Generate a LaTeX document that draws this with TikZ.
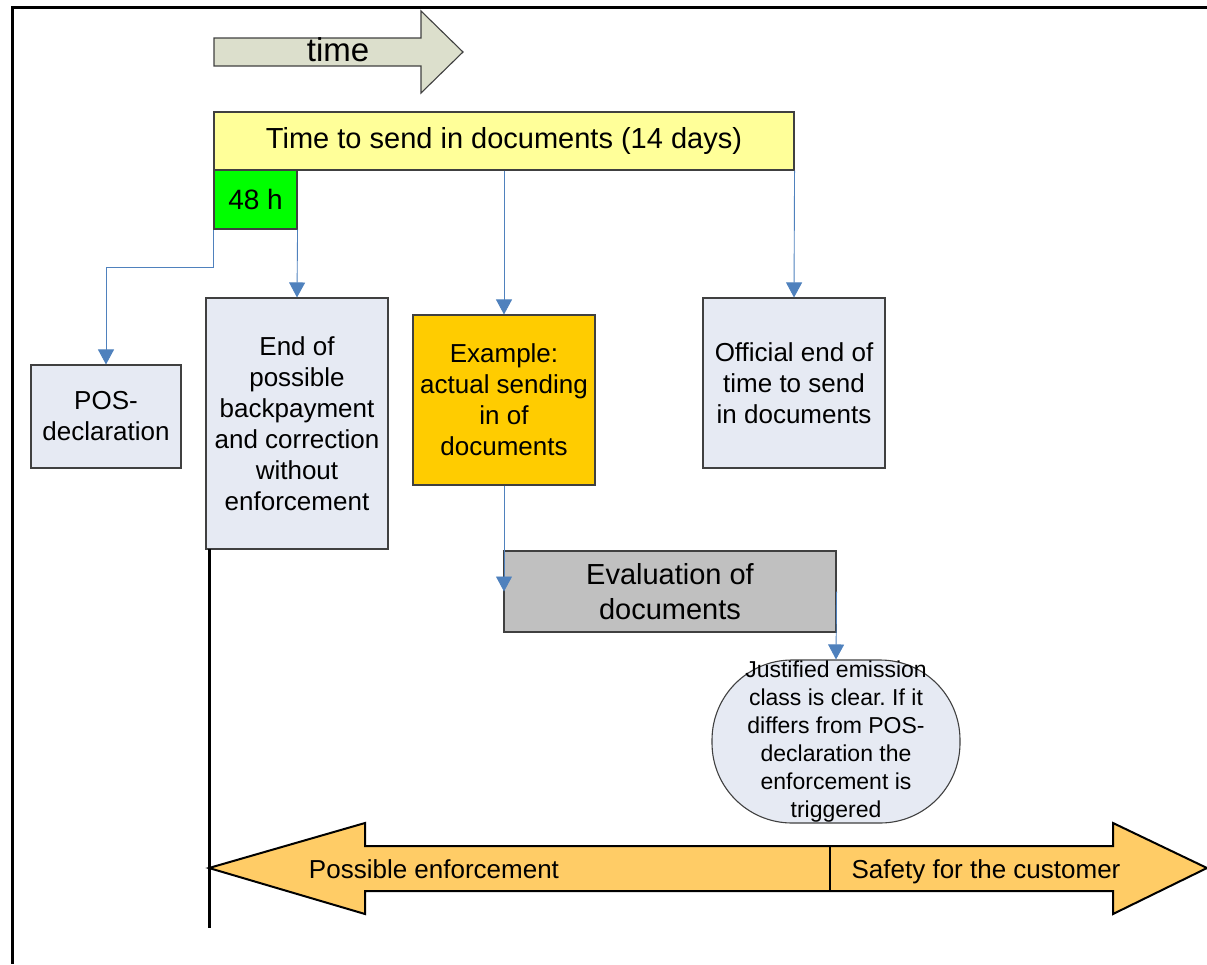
\documentclass[tikz,border=0pt]{standalone}
\usepackage{fontspec}
\setmainfont{Liberation Sans}
\frenchspacing
\usetikzlibrary{arrows.meta}
\definecolor{boxblue}{RGB}{230,234,243}
\definecolor{boxedge}{RGB}{64,64,64}
\definecolor{barYellow}{RGB}{255,255,153}
\definecolor{barGreen}{RGB}{0,255,0}
\definecolor{exOrange}{RGB}{255,204,0}
\definecolor{evGray}{RGB}{192,192,192}
\definecolor{timeFill}{RGB}{220,223,204}
\definecolor{bigArrow}{RGB}{255,204,102}
\definecolor{connBlue}{RGB}{79,129,189}
\tikzset{
  box/.style={draw=boxedge, line width=1.1pt, inner sep=0pt, align=center, anchor=center},
  txt/.style={font=\fontsize{26}{31}\selectfont},
  conn/.style={draw=connBlue, line width=0.9pt, -{Triangle[width=16pt,length=15pt]}},
}
\begin{document}
\begin{tikzpicture}[x=1pt,y=-1pt]
\useasboundingbox (0,0) rectangle (1207,964);
% frame
\coordinate (f1) at (1207,7);
\coordinate (f2) at (12,7);
\coordinate (f3) at (12,964);
\draw[line width=3pt] (f1) -- (f2) -- (f3);

% time arrow
\draw[fill=timeFill, draw=boxedge, line width=1.1pt]
  (214,38) -- (421,38) -- (421,11) -- (463,52) -- (421,93) -- (421,66) -- (214,66) -- cycle;
\node[font=\fontsize{33}{36}\selectfont] (time) at (338,50) {time};

% top bars
\node[box, fill=barYellow, minimum width=580pt, minimum height=58pt, font=\fontsize{29}{34}\selectfont] (bar) at (504,141) {Time to send in documents (14 days)};
\node[box, fill=barGreen, minimum width=83pt, minimum height=59pt, font=\fontsize{28}{31}\selectfont] (h48) at (255.5,199.5) {48 h};

% boxes
\node[box, txt, fill=boxblue, minimum width=150pt, minimum height=103pt] (pos) at (106,416.5) {POS-\\declaration};
\node[box, txt, fill=boxblue, minimum width=182pt, minimum height=251pt] (endb) at (297,423.5) {End of\\possible\\backpayment\\and correction\\without\\enforcement};
\node[box, txt, fill=exOrange, minimum width=182pt, minimum height=170pt] (ex) at (504,400) {Example:\\actual sending\\in of\\documents};
\node[box, txt, fill=boxblue, minimum width=182pt, minimum height=170pt] (off) at (794,383) {Official end of\\time to send\\in documents};
\node[box, fill=evGray, minimum width=332pt, minimum height=81pt, font=\fontsize{29}{35}\selectfont] (ev) at (670,591.5) {Evaluation of\\documents};
\node[box, fill=boxblue, rounded corners=80pt, minimum width=248pt, minimum height=163pt, font=\fontsize{23}{28}\selectfont] (just) at (836,741.5) {Justified emission\\class is clear. If it\\differs from POS-\\declaration the\\enforcement is\\triggered};

% connectors
\draw[conn] (h48.south west) -- ++(0,38) -| (pos.north);
\draw[conn] (h48.south east) -- (endb.north);
\draw[conn] (bar.south) -- (ex.north);
\draw[conn] (bar.south east) -- (off.north);
\draw[conn] (ex.south) -- (ex.south |- ev.west);
\draw[conn] (ev.east) -- (just.north);

% vertical time line
\coordinate (vtop) at (209,549);
\coordinate (vbot) at (209,928);
\draw[line width=3pt] (vtop) -- (vbot);

% big double arrow
\draw[fill=bigArrow, draw=black, line width=2pt, line join=miter]
  (209,868) -- (365,823) -- (365,846) -- (1113,846) -- (1113,823) -- (1207,868)
  -- (1113,914) -- (1113,891) -- (365,891) -- (365,914) -- cycle;
\coordinate (d1) at (830,846);
\coordinate (d2) at (830,891);
\draw[line width=2pt] (d1) -- (d2);
\node[txt, anchor=base] (pe) at (434,878) {Possible enforcement};
\node[txt, anchor=base] (sc) at (986,878) {Safety for the customer};
\end{tikzpicture}
\end{document}
